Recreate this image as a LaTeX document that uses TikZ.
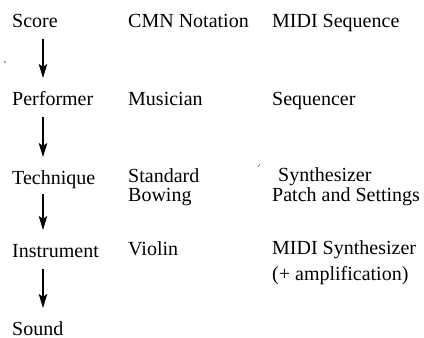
\documentclass[tikz,border=0pt]{standalone}
\usepackage{fontspec}
\setmainfont{Liberation Serif}
\usetikzlibrary{arrows.meta,calc}
\begin{document}
\begin{tikzpicture}[x=1pt,y=-1pt,
  lbl/.style={anchor=base west,inner sep=0pt,font=\fontsize{20}{24}\selectfont},
  flow/.style={line width=1.5pt,-{Stealth[length=14pt,width=8.5pt,inset=3pt]}},
  speck/.style={fill=black!70}]
\useasboundingbox (0,0) rectangle (424,338);
% column 1
\node[lbl] (score) at (12,27) {Score};
\node[lbl] (perf) at (12,105) {Performer};
\node[lbl] (tech) at (12,184) {Technique};
\node[lbl] (inst) at (12,257) {Instrument};
\node[lbl] (sound) at (12,335) {Sound};
% column 2
\node[lbl] (cmn) at (128,27) {CMN Notation};
\node[lbl] (mus) at (128,105) {Musician};
\node[lbl] (std) at (128,182) {Standard};
\node[lbl] (bow) at (128,201) {Bowing};
\node[lbl] (vio) at (128,255) {Violin};
% column 3
\node[lbl] (midiseq) at (272,27) {MIDI Sequence};
\node[lbl] (seqr) at (272,105) {Sequencer};
\node[lbl] (synth) at (278,181) {Synthesizer};
\node[lbl] (patch) at (272,201) {Patch and Settings};
\node[lbl] (midisyn) at (272,254) {MIDI Synthesizer};
\node[lbl] (amp) at (272,280) {(+ amplification)};
% arrows
\draw[flow] ($(score.base west)+(31,12)$) -- ($(perf.base west)+(31,-27)$);
\draw[flow] ($(perf.base west)+(31,12)$) -- ($(tech.base west)+(31,-27)$);
\draw[flow] ($(tech.base west)+(31,10)$) -- ($(inst.base west)+(31,-27)$);
\draw[flow] ($(inst.base west)+(31,12)$) -- ($(sound.base west)+(31,-27)$);
% scanning specks
\fill[speck] (5,62) circle (0.8);
\draw[black!60,line width=0.6pt] (258,167) -- (260,164);
\end{tikzpicture}
\end{document}
